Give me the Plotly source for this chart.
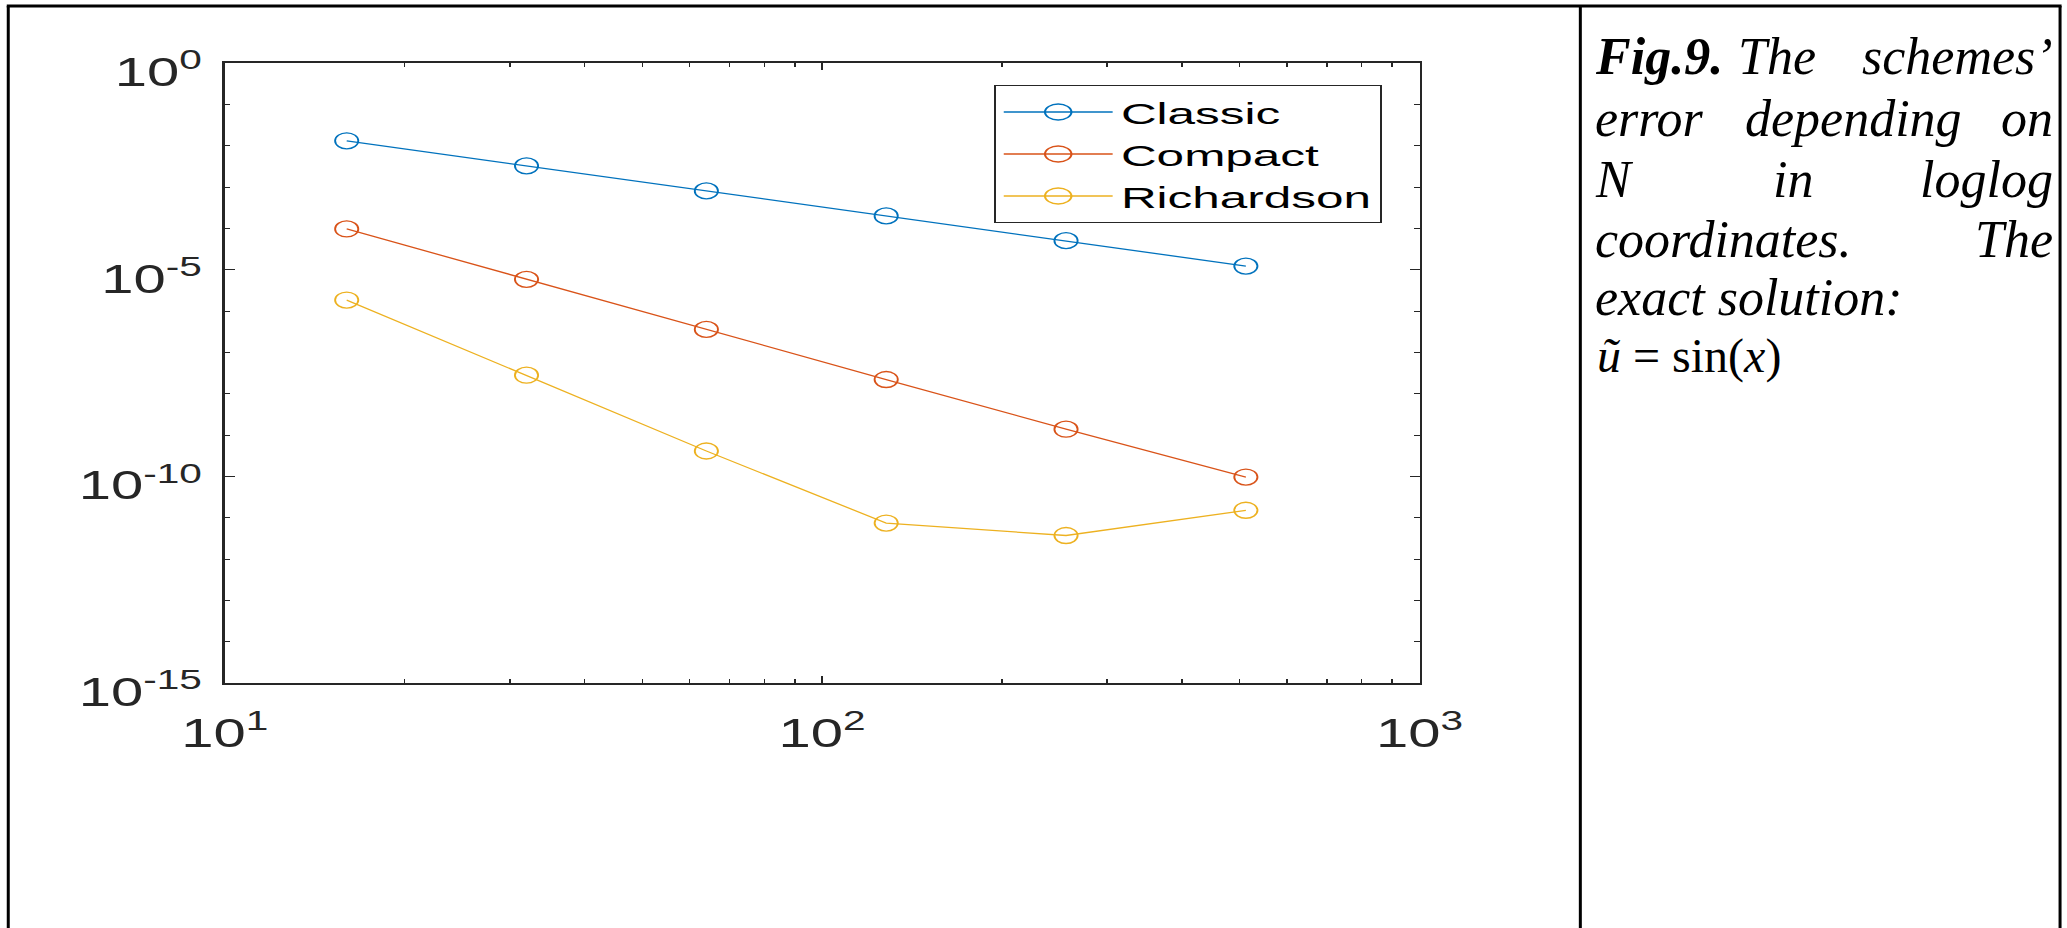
import plotly.graph_objects as go

# ---- data -------------------------------------------------------------
N = [16, 32, 64, 128, 256, 512]
classic = [1.31e-2, 3.25e-3, 8.05e-4, 2.0e-4, 5.04e-5, 1.22e-5]
compact = [9.66e-5, 5.83e-6, 3.59e-7, 2.20e-8, 1.38e-9, 9.6e-11]
richardson = [1.84e-6, 2.80e-8, 4.10e-10, 7.4e-12, 3.7e-12, 1.51e-11]

series_names = ["Classic", "Compact", "Richardson"]
series_colors = ["#0072BD", "#D95319", "#EDB120"]

x_tickvals = [10, 100, 1000]
x_ticktext = ["10<sup>1</sup>", "10<sup>2</sup>", "10<sup>3</sup>"]
y_tickvals = [1e-15, 1e-10, 1e-5, 1]
y_ticktext = ["10<sup>-15</sup>", "10<sup>-10</sup>", "10<sup>-5</sup>", "10<sup>0</sup>"]

x_minor = [m * 10 ** e for e in (1, 2) for m in range(2, 10)]
y_minor = [10.0 ** -k for k in range(1, 15) if k % 5]

# caption words: (text, x position in px, anchor, font size), one list per line
caption_lines = [
    [("<b><i>Fig.9.</i></b>", 1595, "left", 52), ("<i>The</i>", 1738, "left", 52),
     ("<i>schemes\u2019</i>", 2055, "right", 52)],
    [("<i>error</i>", 1595, "left", 52), ("<i>depending</i>", 1745, "left", 52),
     ("<i>on</i>", 2055, "right", 52)],
    [("<i>N</i>", 1595, "left", 52), ("<i>in</i>", 1773, "left", 52),
     ("<i>loglog</i>", 2055, "right", 52)],
    [("<i>coordinates.</i>", 1595, "left", 52), ("<i>The</i>", 2055, "right", 52)],
    [("<i>exact solution:</i>", 1595, "left", 52)],
    [("<i>\u0169</i> = sin(<i>x</i>)", 1597, "left", 48)],
]
caption_baselines = [72, 134, 195, 255, 313, 370]

# ---- geometry (px) ----------------------------------------------------
W, H = 2067, 928
S = 1.45                      # horizontal stretch of the axes group
S_LEG = 1.65                  # horizontal stretch of the legend group
X0, X1, Y0, Y1 = 224.5, 1420.0, 63.0, 683.0   # plot box on the page
ml = X0 / S
mr = W - X1 / S
mt = Y0
mb = H - Y1
pw = (X1 - X0) / S
ph = Y1 - Y0


def px_x(v):          # page px -> paper x for unstretched items
    return (v - ml) / pw


def px_y(v):          # page px (from top) -> paper y
    return (Y1 - v) / ph


AX = "#262626"
SANS = "Liberation Sans, Arial, Helvetica, sans-serif"
SERIF = "Liberation Serif, Times New Roman, serif"

fig = go.Figure()
for name, vals, color in zip(series_names, [classic, compact, richardson], series_colors):
    fig.add_trace(go.Scatter(
        x=N, y=vals, mode="lines+markers", name=name,
        line=dict(color=color, width=1.3),
        marker=dict(symbol="circle-open", size=16, color=color, line=dict(width=1.3, color=color)),
    ))

axis_common = dict(
    type="log", ticks="inside", ticklen=7, tickwidth=1, tickcolor=AX,
    showline=True, linecolor=AX, linewidth=1.5, mirror="ticks",
    showgrid=False, zeroline=False, automargin=False,
    tickfont=dict(family=SANS, size=40, color=AX),
)

fig.update_layout(
    width=W, height=H,
    margin=dict(l=ml, r=mr, t=mt, b=mb, pad=0),
    paper_bgcolor="white", plot_bgcolor="white",
    xaxis=dict(
        range=[1, 3], tickmode="array", tickvals=x_tickvals, ticktext=x_ticktext,
        ticklabelstandoff=14,
        minor=dict(tickmode="array", tickvals=x_minor, ticks="inside", ticklen=4,
                   tickwidth=1, tickcolor=AX, showgrid=False),
        **axis_common,
    ),
    yaxis=dict(
        range=[-15, 0], tickmode="array", tickvals=y_tickvals, ticktext=y_ticktext,
        ticklabelstandoff=6, ticklabelshift=9,
        minor=dict(tickmode="array", tickvals=y_minor, ticks="inside", ticklen=4,
                   tickwidth=1, tickcolor=AX, showgrid=False),
        **axis_common,
    ),
    showlegend=True,
    legend=dict(
        x=(994 / S_LEG - ml) / pw, y=px_y(85), xanchor="left", yanchor="top",
        bgcolor="white", bordercolor=AX, borderwidth=1,
        font=dict(family=SANS, size=30, color="black"),
        itemwidth=66, tracegroupgap=0,
    ),
)

# table frame around the figure and the caption cell
frame = dict(type="line", xref="paper", yref="paper", line=dict(color="black", width=3), layer="above")
fig.add_shape(x0=px_x(6.5), x1=px_x(2062.5), y0=px_y(6), y1=px_y(6), **frame)
for vx in (8, 1581, 2061):
    fig.add_shape(x0=px_x(vx), x1=px_x(vx), y0=px_y(6), y1=px_y(H + 5), **frame)

# caption text
for words, base in zip(caption_lines, caption_baselines):
    for text, xpos, anchor, size in words:
        fig.add_annotation(
            text=text, x=px_x(xpos), y=px_y(base - 0.3 * size),
            xref="paper", yref="paper", xanchor=anchor, yanchor="middle",
            showarrow=False, font=dict(family=SERIF, size=size, color="black"),
            borderpad=0,
        )

post = """
document.body.style.margin = '0';
var gd = document.getElementById('{plot_id}');
function stretch(sel, s) {
  gd.querySelectorAll(sel).forEach(function(el) {
    var t = el.getAttribute('transform') || '';
    el.setAttribute('transform', 'scale(' + s + ',1) ' + t);
  });
}
stretch('.cartesianlayer', AXS);
stretch('.legend', LEGS);
""".replace("AXS", str(S)).replace("LEGS", str(S_LEG))

fig.write_html("out.html", config={"displayModeBar": False}, post_script=post)
